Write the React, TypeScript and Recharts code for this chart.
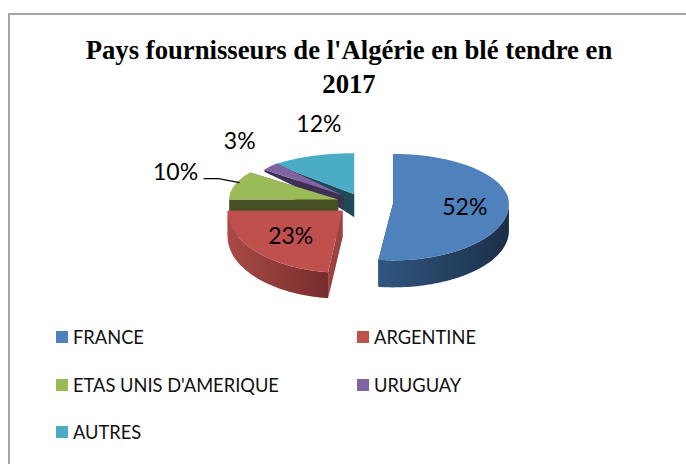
import React from "react";
import { PieChart, Pie, Legend } from "recharts";

const TITLE_LINES = ["Pays fournisseurs de l'Algérie en blé tendre en", "2017"];
const CATEGORIES = ["FRANCE", "ARGENTINE", "ETAS UNIS D'AMERIQUE", "URUGUAY", "AUTRES"];
const VALUES = [52, 23, 10, 3, 12];
const COLORS = ["#4f81bd", "#c0504d", "#9bbb59", "#8064a2", "#4bacc6"];
const WALL_LEFT = ["#30567f", "#a84a47", "#465022", "#3f2f55", "#1f4a57"];
const WALL_RIGHT = ["#1b2f48", "#772d2b", "#465022", "#3f2f55", "#1f4a57"];
const CUT_COLORS = ["#1b2f48", "#9a4240", "#465022", "#3f2f55", "#1f4a57"];

// drawing style per slice (index matches CATEGORIES): pull-out distance, radius scale, ellipse height above/below, extrusion at the apex / at the rim
const EXPLODE = [31, 26, 25, 25, 21];
const RADIUS_SCALE = [1, 0.99, 0.94, 0.84, 1];
const RY_TOP = [50, 50, 46, 44, 41];
const RY_BOTTOM = [56.5, 62, 50, 50, 50];
const DEPTH_APEX = [27, 27, 13, 14, 23];
const DEPTH_RIM = [27, 26, 13, 2, 2];
// label placement: radial distance horizontally, vertically
const LABEL_RX = [103, 95, 196, 163, 117];
const LABEL_RY = [40, 48, 105, 95, 86];
const SQUASH = 0.45;

const rows = CATEGORIES.map((name, i) => ({ name, value: VALUES[i], fill: COLORS[i], idx: i })).reverse();

const rad = (d: number) => (d * Math.PI) / 180;

function Slice3D(props: any) {
  const { cx, cy, outerRadius, startAngle, endAngle, payload } = props;
  const i = CATEGORIES.indexOf(payload?.name ?? props.name);
  const s = Math.min(startAngle, endAngle);
  const e = Math.max(startAngle, endAngle);
  let t0 = 90 - e;
  if (t0 < 0) t0 += 360;
  const t1 = t0 + (e - s);
  const mid = (t0 + t1) / 2;
  const ax = cx + EXPLODE[i] * Math.sin(rad(mid));
  const ay = cy - EXPLODE[i] * Math.cos(rad(mid)) * SQUASH;
  const rx = outerRadius * RADIUS_SCALE[i];
  const pt = (t: number): [number, number] => {
    const c = Math.cos(rad(t));
    return [ax + rx * Math.sin(rad(t)), ay - (c > 0 ? RY_TOP[i] : RY_BOTTOM[i]) * c];
  };
  const arc: [number, number][] = [];
  for (let t = t0; t < t1; t += 1.5) arc.push(pt(t));
  arc.push(pt(t1));
  const toPath = (p: [number, number][]) => "M" + p.map((q) => q[0].toFixed(2) + " " + q[1].toFixed(2)).join("L") + "Z";

  const da = DEPTH_APEX[i];
  const dr = DEPTH_RIM[i];
  const faces = [t0, t1].map((t) => {
    const p = pt(t);
    return toPath([[ax, ay], p, [p[0], p[1] + dr], [ax, ay + da]]);
  });

  const wa = Math.max(t0, 90);
  const wb = Math.min(t1, 270);
  let wall = "";
  if (wb > wa) {
    const top: [number, number][] = [];
    for (let t = wa; t < wb; t += 1.5) top.push(pt(t));
    top.push(pt(wb));
    const bottom = top.slice().reverse().map((q) => [q[0], q[1] + dr] as [number, number]);
    wall = toPath([...top, ...bottom]);
  }
  const gid = "wall-" + i;
  return (
    <g>
      <defs>
        <linearGradient id={gid} x1="0" y1="0" x2="1" y2="0">
          <stop offset="0" stopColor={WALL_LEFT[i]} />
          <stop offset="1" stopColor={WALL_RIGHT[i]} />
        </linearGradient>
      </defs>
      {faces.map((d, k) => (
        <path key={k} d={d} fill={CUT_COLORS[i]} stroke="none" />
      ))}
      {wall && <path d={wall} fill={`url(#${gid})`} stroke="none" />}
      <path d={toPath([[ax, ay], ...arc])} fill={COLORS[i]} stroke="none" />
    </g>
  );
}

function SliceLabel(props: any) {
  const { cx, cy, midAngle, payload, value } = props;
  const i = CATEGORIES.indexOf(payload?.name ?? props.name);
  const t = 90 - midAngle;
  const x = cx + LABEL_RX[i] * Math.sin(rad(t));
  const y = cy - LABEL_RY[i] * Math.cos(rad(t));
  return (
    <g>
      {i === 2 && <path d={`M${x + 28} ${y + 8}L${x + 43} ${y + 8}L${x + 64} ${y + 12}`} fill="none" stroke="#000" strokeWidth={1.2} />}
      <text x={x} y={y} textAnchor="middle" dominantBaseline="central" fontFamily="Lato" fontSize={23} fill="#000">
        {value}%
      </text>
    </g>
  );
}

function LegendBlock() {
  const pos = [
    [56, 337],
    [357, 337],
    [56, 385],
    [357, 385],
    [56, 432],
  ];
  return (
    <div style={{ position: "relative", width: 686, height: 464 }}>
      {CATEGORIES.map((name, i) => (
        <div key={name}>
          <div style={{ position: "absolute", left: pos[i][0], top: pos[i][1] - 6, width: 12, height: 12, background: COLORS[i] }} />
          <div
            style={{
              position: "absolute",
              left: pos[i][0] + 17,
              top: pos[i][1] - 12,
              height: 24,
              lineHeight: "24px",
              whiteSpace: "nowrap",
              fontFamily: "Lato",
              fontSize: 18.3,
              color: "#111",
            }}
          >
            {name}
          </div>
        </div>
      ))}
    </div>
  );
}

export default function App() {
  return (
    <div style={{ position: "absolute", left: 0, top: 0, width: 686, height: 464, overflow: "hidden", background: "#fff" }}>
      <div style={{ position: "absolute", left: 8, top: 13, width: 720, height: 500, border: "2px solid #a3a3a3" }} />
      <PieChart width={686} height={464} margin={{ top: 0, right: 0, bottom: 0, left: 0 }} style={{ position: "absolute", left: 0, top: 0 }}>
        <text x={349} y={59} textAnchor="middle" fontFamily="Liberation Serif" fontWeight="bold" fontSize={26.7} fill="#000">
          {TITLE_LINES[0]}
        </text>
        <text x={349} y={93} textAnchor="middle" fontFamily="Liberation Serif" fontWeight="bold" fontSize={26.7} fill="#000">
          {TITLE_LINES[1]}
        </text>
        <Pie
          data={rows}
          dataKey="value"
          nameKey="name"
          cx={362}
          cy={203}
          outerRadius={116}
          startAngle={90}
          endAngle={450}
          stroke="none"
          isAnimationActive={false}
          shape={Slice3D}
          label={SliceLabel}
          labelLine={false}
        />
        <Legend content={LegendBlock} wrapperStyle={{ position: "absolute", left: 0, top: 0, width: 686, height: 464 }} />
      </PieChart>
    </div>
  );
}
